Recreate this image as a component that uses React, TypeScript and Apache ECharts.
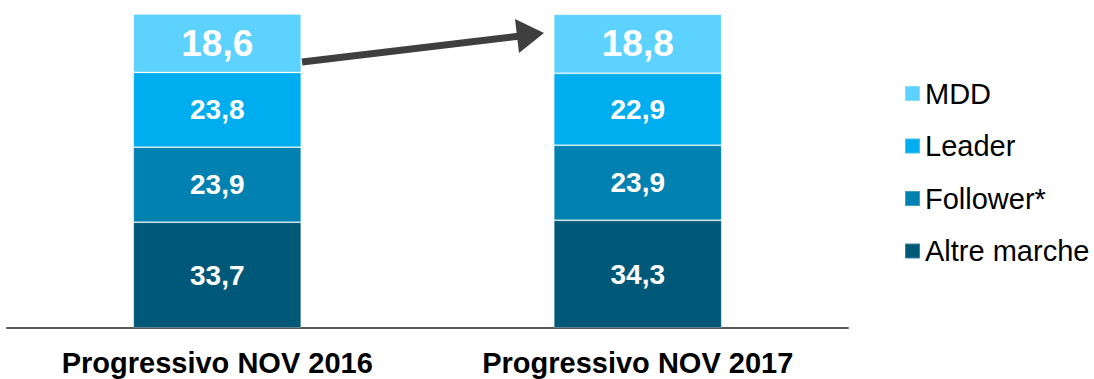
import React, { useEffect, useRef } from "react";
import * as echarts from "echarts";

const categories = ["Progressivo NOV 2016", "Progressivo NOV 2017"];
const altreMarche = [33.7, 34.3];
const follower = [23.9, 23.9];
const leader = [23.8, 22.9];
const mdd = [18.6, 18.8];
const legendOrder = ["MDD", "Leader", "Follower*", "Altre marche"];

const FONT = "'Liberation Sans', Arial, sans-serif";
const fmt = (p: any) => Number(p.value).toFixed(1).replace(".", ",");

export default function App() {
  const ref = useRef<HTMLDivElement>(null);
  useEffect(() => {
    document.body.style.margin = "0";
    const chart = echarts.init(ref.current!, null, { renderer: "svg" });
    const mk = (name: string, data: number[], color: string, big = false) => ({
      name,
      type: "bar",
      stack: "total",
      data,
      barWidth: 168,
      itemStyle: { color, borderColor: "rgba(255,255,255,0.25)", borderWidth: 1 },
      label: {
        show: true,
        position: "inside",
        color: "#ffffff",
        fontWeight: "bold",
        fontFamily: FONT,
        fontSize: big ? 37 : 28,
        formatter: fmt,
      },
    });
    chart.setOption({
      animation: false,
      grid: { left: 7, width: 841, top: 14, height: 314, containLabel: false },
      xAxis: {
        type: "category",
        data: categories,
        axisLine: { show: true, lineStyle: { color: "#595959", width: 2 } },
        axisTick: { show: false },
        axisLabel: {
          color: "#000000",
          fontWeight: "bold",
          fontFamily: FONT,
          fontSize: 29,
          margin: 20,
        },
      },
      yAxis: { type: "value", min: 0, max: 100, show: false },
      legend: {
        data: legendOrder,
        orient: "vertical",
        left: 904,
        top: 79,
        itemWidth: 15,
        itemHeight: 15,
        itemGap: 23.5,
        padding: 0,
        icon: "rect",
        textStyle: { fontSize: 29, fontFamily: FONT, color: "#000000", lineHeight: 28 },
      },
      series: [
        mk("Altre marche", altreMarche, "#005878"),
        mk("Follower*", follower, "#0081b0"),
        mk("Leader", leader, "#00aeef"),
        mk("MDD", mdd, "#5dd2fe", true),
      ],
      graphic: [
        {
          type: "line",
          shape: { x1: 302, y1: 62, x2: 520, y2: 36 },
          style: { stroke: "#3f3f3f", lineWidth: 7 },
        },
        {
          type: "polygon",
          shape: { points: [[544, 33], [515, 19], [519, 53]] },
          style: { fill: "#3f3f3f" },
        },
      ],
    });
    return () => chart.dispose();
  }, []);
  return <div ref={ref} style={{ width: 1094, height: 379 }} />;
}
